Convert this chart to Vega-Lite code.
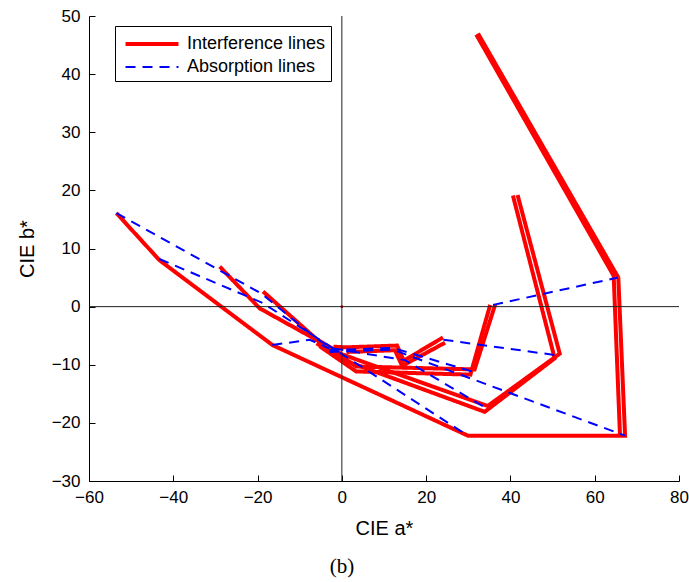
{
  "$schema": "https://vega.github.io/schema/vega-lite/v6.json",
  "width": 590,
  "height": 465,
  "autosize": {"type": "none"},
  "padding": {"left": 89, "top": 16, "right": 10, "bottom": 101},
  "background": "white",
  "title": {"text": "(b)", "orient": "bottom", "anchor": "middle", "frame": "group", "font": "Liberation Serif", "fontSize": 21, "fontWeight": "normal", "color": "black", "dx": -42, "offset": 18},
  "config": {
    "view": {"stroke": null},
    "axis": {"labelFont": "Liberation Sans", "titleFont": "Liberation Sans", "labelColor": "black", "titleColor": "black", "domainColor": "black", "tickColor": "black", "grid": false, "labelFontSize": 17, "titleFontSize": 20, "titleFontWeight": "normal", "tickSize": -6, "domainWidth": 1, "tickWidth": 1, "labelFlush": false, "labelOverlap": false}
  },
  "layer": [
    {
      "data": {"values": [
        {"series": "Interference lines", "path": "RA", "i": 0, "a": -53.5, "b": 16.1},
        {"series": "Interference lines", "path": "RA", "i": 1, "a": -43.3, "b": 8.0},
        {"series": "Interference lines", "path": "RA", "i": 2, "a": -16.5, "b": -6.6},
        {"series": "Interference lines", "path": "RA", "i": 3, "a": 29.9, "b": -22.2},
        {"series": "Interference lines", "path": "RA", "i": 4, "a": 67.2, "b": -22.2},
        {"series": "Interference lines", "path": "RA", "i": 5, "a": 65.6, "b": 5.0},
        {"series": "Interference lines", "path": "RA", "i": 6, "a": 32.3, "b": 47.0},
        {"series": "Interference lines", "path": "RA2", "i": 0, "a": 66.0, "b": -22.2},
        {"series": "Interference lines", "path": "RA2", "i": 1, "a": 64.5, "b": 5.3},
        {"series": "Interference lines", "path": "RA2", "i": 2, "a": 31.9, "b": 46.8},
        {"series": "Interference lines", "path": "RB1", "i": 0, "a": -18.7, "b": 2.6},
        {"series": "Interference lines", "path": "RB1", "i": 1, "a": -6.0, "b": -5.6},
        {"series": "Interference lines", "path": "RB1", "i": 2, "a": 0.0, "b": -8.2},
        {"series": "Interference lines", "path": "RB1", "i": 3, "a": 34.6, "b": -17.1},
        {"series": "Interference lines", "path": "RB1", "i": 4, "a": 51.7, "b": -8.1},
        {"series": "Interference lines", "path": "RB1", "i": 5, "a": 41.7, "b": 19.2},
        {"series": "Interference lines", "path": "RB2", "i": 0, "a": -6.0, "b": -6.3},
        {"series": "Interference lines", "path": "RB2", "i": 1, "a": 0.0, "b": -9.1},
        {"series": "Interference lines", "path": "RB2", "i": 2, "a": 33.9, "b": -18.1},
        {"series": "Interference lines", "path": "RB2", "i": 3, "a": 50.5, "b": -8.9},
        {"series": "Interference lines", "path": "RB2", "i": 4, "a": 40.6, "b": 19.1},
        {"series": "Interference lines", "path": "RC1", "i": 0, "a": -29.0, "b": 6.9},
        {"series": "Interference lines", "path": "RC1", "i": 1, "a": -19.5, "b": -0.3},
        {"series": "Interference lines", "path": "RC1", "i": 2, "a": -5.3, "b": -6.0},
        {"series": "Interference lines", "path": "RC1", "i": 3, "a": 3.4, "b": -10.3},
        {"series": "Interference lines", "path": "RC1", "i": 4, "a": 31.5, "b": -10.8},
        {"series": "Interference lines", "path": "RC1", "i": 5, "a": 36.4, "b": 0.4},
        {"series": "Interference lines", "path": "RC2", "i": 0, "a": -5.3, "b": -6.8},
        {"series": "Interference lines", "path": "RC2", "i": 1, "a": 3.4, "b": -11.15},
        {"series": "Interference lines", "path": "RC2", "i": 2, "a": 30.5, "b": -11.7},
        {"series": "Interference lines", "path": "RC2", "i": 3, "a": 35.2, "b": 0.3},
        {"series": "Interference lines", "path": "RD1", "i": 0, "a": -2.0, "b": -6.9},
        {"series": "Interference lines", "path": "RD1", "i": 1, "a": 1.1, "b": -7.0},
        {"series": "Interference lines", "path": "RD1", "i": 2, "a": 13.1, "b": -6.7},
        {"series": "Interference lines", "path": "RD1", "i": 3, "a": 14.7, "b": -9.3},
        {"series": "Interference lines", "path": "RD1", "i": 4, "a": 24.0, "b": -5.3},
        {"series": "Interference lines", "path": "RD2", "i": 0, "a": 1.1, "b": -7.8},
        {"series": "Interference lines", "path": "RD2", "i": 1, "a": 12.6, "b": -7.5},
        {"series": "Interference lines", "path": "RD2", "i": 2, "a": 14.3, "b": -10.2},
        {"series": "Interference lines", "path": "RD2", "i": 3, "a": 24.5, "b": -6.2},
        {"series": "Absorption lines", "path": "B1", "i": 0, "a": -53.5, "b": 16.1},
        {"series": "Absorption lines", "path": "B1", "i": 1, "a": -19.0, "b": 2.2},
        {"series": "Absorption lines", "path": "B1", "i": 2, "a": -6.0, "b": -5.5},
        {"series": "Absorption lines", "path": "B1", "i": 3, "a": -1.0, "b": -7.8},
        {"series": "Absorption lines", "path": "B2", "i": 0, "a": -43.3, "b": 8.2},
        {"series": "Absorption lines", "path": "B2", "i": 1, "a": -18.7, "b": 0.6},
        {"series": "Absorption lines", "path": "B2", "i": 2, "a": 29.9, "b": -22.2},
        {"series": "Absorption lines", "path": "B3", "i": 0, "a": -16.5, "b": -6.6},
        {"series": "Absorption lines", "path": "B3", "i": 1, "a": -7.6, "b": -5.7},
        {"series": "Absorption lines", "path": "B3", "i": 2, "a": -3.0, "b": -7.2},
        {"series": "Absorption lines", "path": "B4", "i": 0, "a": -3.0, "b": -7.5},
        {"series": "Absorption lines", "path": "B4", "i": 1, "a": 12.1, "b": -7.1},
        {"series": "Absorption lines", "path": "B4", "i": 2, "a": 31.1, "b": -11.2},
        {"series": "Absorption lines", "path": "B5", "i": 0, "a": 35.9, "b": 0.3},
        {"series": "Absorption lines", "path": "B5", "i": 1, "a": 65.5, "b": 5.0},
        {"series": "Absorption lines", "path": "B6", "i": 0, "a": 24.1, "b": -5.7},
        {"series": "Absorption lines", "path": "B6", "i": 1, "a": 51.3, "b": -8.4},
        {"series": "Absorption lines", "path": "B7", "i": 0, "a": -3.0, "b": -7.8},
        {"series": "Absorption lines", "path": "B7", "i": 1, "a": 12.1, "b": -7.4},
        {"series": "Absorption lines", "path": "B7", "i": 2, "a": 67.2, "b": -22.2},
        {"series": "Absorption lines", "path": "B8", "i": 0, "a": -2.0, "b": -7.2},
        {"series": "Absorption lines", "path": "B8", "i": 1, "a": 15.0, "b": -9.2},
        {"series": "Absorption lines", "path": "B8", "i": 2, "a": 34.3, "b": -17.5}
      ]},
      "mark": {"type": "line", "strokeCap": "butt", "strokeJoin": "miter"},
      "encoding": {
        "x": {"field": "a", "type": "quantitative", "scale": {"domain": [-60, 80], "nice": false, "zero": false},
          "axis": {"title": "CIE a*", "values": [-60, -40, -20, 0, 20, 40, 60, 80], "labelPadding": 14, "titlePadding": 13}},
        "y": {"field": "b", "type": "quantitative", "scale": {"domain": [-30, 50], "nice": false, "zero": false},
          "axis": {"title": "CIE b*", "values": [-30, -20, -10, 0, 10, 20, 30, 40, 50], "labelPadding": 15, "titlePadding": 14}},
        "detail": {"field": "path"},
        "order": {"field": "i", "type": "quantitative"},
        "color": {"field": "series", "type": "nominal",
          "scale": {"domain": ["Interference lines", "Absorption lines"], "range": ["#ff0000", "#0000ff"]},
          "legend": {"title": null, "orient": "none", "legendX": 26, "legendY": 10, "strokeColor": "black", "fillColor": "white", "padding": 5, "symbolType": "M-2.5,0H2.5", "symbolSize": 449, "symbolOffset": 19, "labelFont": "Liberation Sans", "labelFontSize": 18, "labelColor": "black", "labelOffset": 22, "rowPadding": 2}},
        "strokeDash": {"field": "series", "type": "nominal",
          "scale": {"domain": ["Interference lines", "Absorption lines"], "range": [[1, 0], [10, 7]]},
          "legend": {"title": null, "orient": "none", "legendX": 26, "legendY": 10}},
        "strokeWidth": {"field": "series", "type": "nominal",
          "scale": {"domain": ["Interference lines", "Absorption lines"], "range": [4, 2]},
          "legend": {"title": null, "orient": "none", "legendX": 26, "legendY": 10}}
      }
    },
    {
      "data": {"values": [{"v": 0}]},
      "mark": {"type": "rule", "color": "#222222", "strokeWidth": 1},
      "encoding": {"x": {"field": "v", "type": "quantitative"}}
    },
    {
      "data": {"values": [{"v": 0}]},
      "mark": {"type": "rule", "color": "#222222", "strokeWidth": 1},
      "encoding": {"y": {"field": "v", "type": "quantitative"}}
    },
    {
      "data": {"values": [{"a": 0, "b": 0}]},
      "mark": {"type": "point", "filled": true, "color": "#700000", "size": 8, "opacity": 1},
      "encoding": {"x": {"field": "a", "type": "quantitative"}, "y": {"field": "b", "type": "quantitative"}}
    }
  ]
}
